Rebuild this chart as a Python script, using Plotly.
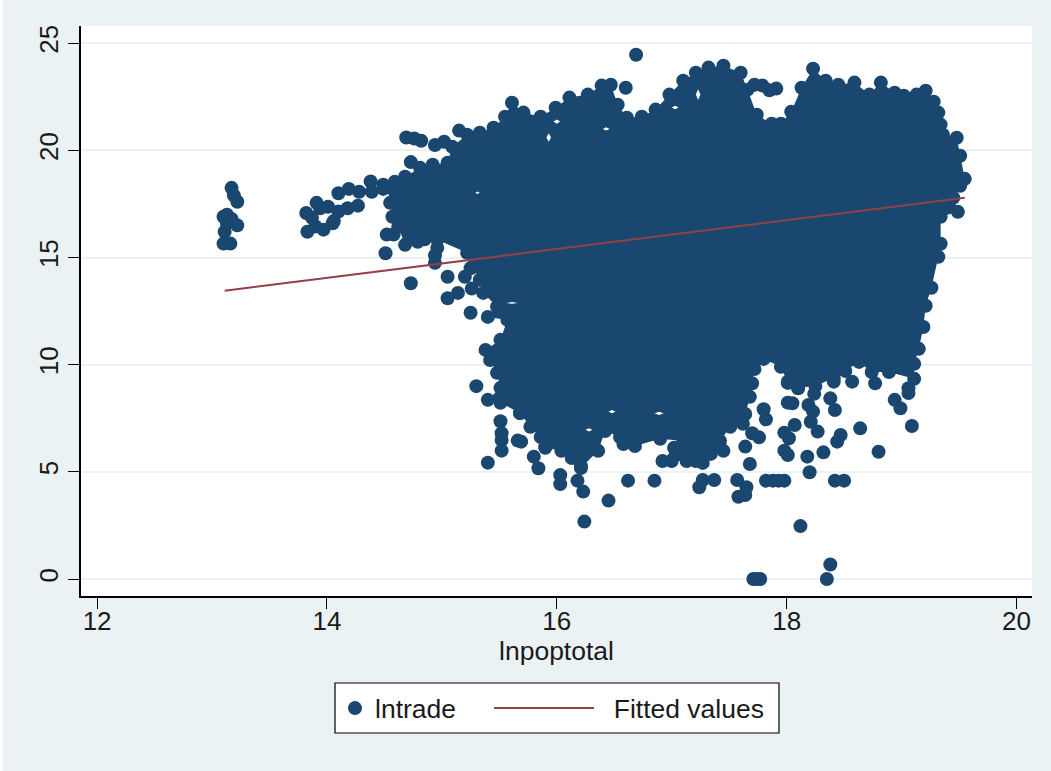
import plotly.graph_objects as go

cloud_x = [14.59,14.68,14.81,14.92,15.05,15.09,15.22,15.33,15.45,15.55,15.61,15.71,15.86,15.99,16.11,16.27,16.39,16.47,16.53,16.61,16.74,16.86,16.98,17.10,17.21,17.32,17.45,17.60,17.66,17.74,17.87,17.95,18.04,18.13,18.23,18.34,18.45,18.59,18.72,18.82,18.94,19.02,19.13,19.21,19.28,19.32,19.34,19.36,19.48,19.51,19.55,19.51,19.45,19.49,19.34,19.34,19.32,19.26,19.21,19.19,19.15,19.11,19.11,
           18.89,18.74,18.63,18.51,18.41,18.25,18.10,18.01,17.95,17.80,17.72,17.68,17.64,17.62,17.51,17.42,17.45,17.34,17.27,17.21,17.13,17.00,16.92,17.02,17.10,16.90,16.68,16.58,16.55,16.42,16.36,16.21,16.13,16.04,15.90,15.86,15.77,15.68,15.51,15.40,15.51,15.48,15.42,15.38,15.51,15.57,15.40,15.48,15.36,15.33,15.27,15.22,14.96,14.79,14.68,14.62,14.57,14.55,14.59]
cloud_y = [18.53,18.77,19.19,19.33,19.42,20.17,20.73,20.82,21.05,21.57,22.22,21.76,21.57,21.99,22.46,22.60,23.02,23.06,22.13,21.52,21.57,21.90,22.60,23.25,23.62,23.86,23.95,23.62,22.83,21.66,21.24,21.24,21.80,22.92,23.81,23.25,23.06,23.16,22.60,23.16,22.69,22.55,22.60,22.78,22.27,21.76,21.20,20.73,20.59,19.75,18.67,18.35,17.79,17.13,16.90,15.64,15.03,13.59,12.75,11.76,10.74,10.04,9.34,
           9.66,9.66,10.13,9.71,9.38,9.01,8.92,9.15,9.90,10.27,9.80,8.50,7.70,7.24,7.10,6.44,5.98,5.84,5.42,5.51,5.51,5.51,5.51,6.12,6.44,6.54,6.21,6.30,6.63,6.91,5.98,5.18,5.65,5.98,6.12,6.63,7.10,7.75,8.22,8.36,8.92,9.62,10.22,10.69,11.16,12.09,12.23,12.70,13.35,13.96,14.57,15.22,15.83,15.73,15.59,16.43,16.90,17.55,18.07]

# Small empty gaps inside the cloud
gap_x = [16.00,15.97,16.00,16.03,None, 15.93,15.91,15.93,15.95,None, 16.43,16.40,16.43,16.46,None,
         17.23,17.21,17.23,17.25,None, 17.03,17.00,17.03,17.06,None,
         16.89,16.85,16.89,16.93,None, 16.48,16.45,16.48,16.51,None, 16.28,16.25,16.28,16.31,None,
         15.31,15.29,15.31,15.33,None, 15.61,15.56,15.61,15.66]
gap_y = [21.44,21.34,21.24,21.34,None, 20.80,20.60,20.40,20.60,None, 21.08,21.00,20.92,21.00,None,
         22.85,22.60,22.35,22.60,None, 22.08,22.00,21.92,22.00,None,
         7.81,7.73,7.65,7.73,None, 7.89,7.81,7.73,7.81,None, 7.04,6.96,6.88,6.96,None,
         18.08,18.02,17.96,18.02,None, 12.92,12.88,12.84,12.88]

# Observations standing apart from the dense cloud, and some along its lower-left edge
other_x = [13.17,13.19,13.22,13.10,13.17,13.22,13.11,13.10,13.16,13.13,13.13,
           13.82,13.91,14.01,14.10,14.19,14.28,14.27,14.18,14.10,13.83,13.90,13.97,14.05,14.06,13.87,13.94,
           14.38,14.39,14.49,14.49,14.52,14.58,14.51,14.69,14.76,14.82,14.73,14.73,14.94,15.02,15.15,
           14.96,14.94,14.94,15.05,15.05,15.14,15.26,15.20,15.25,15.25,15.30,
           16.24,16.45,16.62,16.85,16.03,16.03,16.18,16.23,15.80,15.84,15.69,15.90,16.21,
           17.68,17.27,17.37,17.24,17.57,17.65,17.58,17.64,17.82,17.88,17.93,17.98,18.42,18.50,18.20,18.12,18.38,18.35,17.71,17.74,17.77,
           18.80,19.09,18.64,18.99,18.94,19.06,18.32,18.18,17.98,18.01,18.44,18.47,18.27,18.21,18.23,18.19,18.24,18.42,18.38,
           18.02,17.98,18.07,18.01,18.05,17.82,17.80,17.76,17.64,17.70,18.10,18.01,18.41,18.57,18.77,17.70,19.06,
           15.40,15.52,15.52,15.52,15.51,15.66,15.68,
           16.69,16.60,17.91,17.85,17.72,17.79,
           14.85,14.95,15.05,15.15,15.20]
other_y = [18.25,17.90,17.60,16.90,16.80,16.50,16.20,15.65,15.65,16.60,17.00,
           17.08,17.55,17.37,18.00,18.20,18.07,17.42,17.30,17.15,16.20,16.45,16.30,16.60,16.70,16.85,17.30,
           18.55,18.07,18.40,18.20,16.07,16.07,15.20,20.60,20.55,20.45,19.45,13.80,20.25,20.40,20.92,
           15.45,14.75,15.10,14.10,13.10,13.35,13.55,14.10,14.50,12.42,9.00,
           2.68,3.66,4.59,4.59,4.85,4.43,4.59,4.08,5.71,5.17,6.41,6.18,5.27,
           5.37,4.62,4.62,4.28,4.62,4.28,3.84,3.92,4.59,4.59,4.59,4.59,4.59,4.59,4.98,2.47,0.68,0.00,0.00,0.00,0.00,
           5.94,7.14,7.03,7.97,8.36,8.90,5.91,5.71,5.99,5.79,6.41,6.72,6.88,7.34,7.81,8.12,8.64,7.89,8.43,
           6.57,6.83,7.19,8.23,8.20,7.45,7.92,6.61,6.18,6.80,8.90,9.21,9.21,9.21,9.13,9.13,8.68,
           5.43,5.99,6.49,6.80,7.36,6.46,7.75,
           24.46,22.92,22.88,22.80,23.06,23.02,
           15.85,16.00,16.15,16.15,15.70]

fitted_x = [13.11, 19.55]
fitted_y = [13.45, 17.79]

x_ticks = [12, 14, 16, 18, 20]
y_ticks = [0, 5, 10, 15, 20, 25]

NAVY = "#1a476f"
MAROON = "#93404a"
BG = "#eaf2f3"
FONT = "Liberation Sans"
TEXT = "#1a1a1a"

fig = go.Figure()
fig.add_trace(go.Scatter(x=cloud_x + [None] + gap_x, y=cloud_y + [None] + gap_y, mode="lines",
                         line=dict(width=0, color=NAVY), fill="toself", fillcolor=NAVY,
                         showlegend=False, hoverinfo="skip"))
fig.add_trace(go.Scatter(x=cloud_x + other_x, y=cloud_y + other_y, mode="markers", name="lntrade",
                         marker=dict(color=NAVY, size=14, line=dict(width=0)), legend="legend"))
fig.add_trace(go.Scatter(x=fitted_x, y=fitted_y, mode="lines", name="\u00a0\u00a0Fitted values",
                         line=dict(color=MAROON, width=2), legend="legend2"))

PLOT_W, PLOT_H = 951, 570
fig.update_layout(
    width=1048, height=771, paper_bgcolor=BG, plot_bgcolor="white",
    margin=dict(l=78, r=19, t=26, b=175),
    font=dict(family=FONT, size=26, color=TEXT),
    xaxis=dict(range=[11.86, 20.135], tickvals=x_ticks, showgrid=False, zeroline=False,
               showline=True, linecolor="black", linewidth=1.5, ticks="outside", ticklen=11,
               tickcolor="black", tickwidth=1, ticklabelstandoff=-10,
               title=dict(text="lnpoptotal", standoff=0, font=dict(size=26.5))),
    yaxis=dict(range=[-0.79, 25.8], tickvals=y_ticks, gridcolor=BG, gridwidth=1.5, zeroline=False,
               showline=True, linecolor="black", linewidth=1.5, ticks="outside", ticklen=11,
               tickcolor="black", tickwidth=1, tickangle=-90),
    legend=dict(x=(335 - 81) / PLOT_W, y=-0.155, xanchor="left", yanchor="top", bgcolor="rgba(0,0,0,0)",
                itemwidth=30, font=dict(size=26.5)),
    legend2=dict(x=(489 - 81) / PLOT_W, y=-0.155, xanchor="left", yanchor="top", bgcolor="rgba(0,0,0,0)",
                 itemwidth=100, font=dict(size=26.5)),
    shapes=[dict(type="rect", xref="paper", yref="paper", x0=(335 - 81) / PLOT_W, x1=(779 - 81) / PLOT_W,
                 y0=-(733 - 596) / PLOT_H, y1=-(683 - 596) / PLOT_H,
                 fillcolor="white", line=dict(color="black", width=1.2), layer="below")],
)
fig.write_html("out.html", post_script="document.body.style.margin='0 0 0 3px';")
